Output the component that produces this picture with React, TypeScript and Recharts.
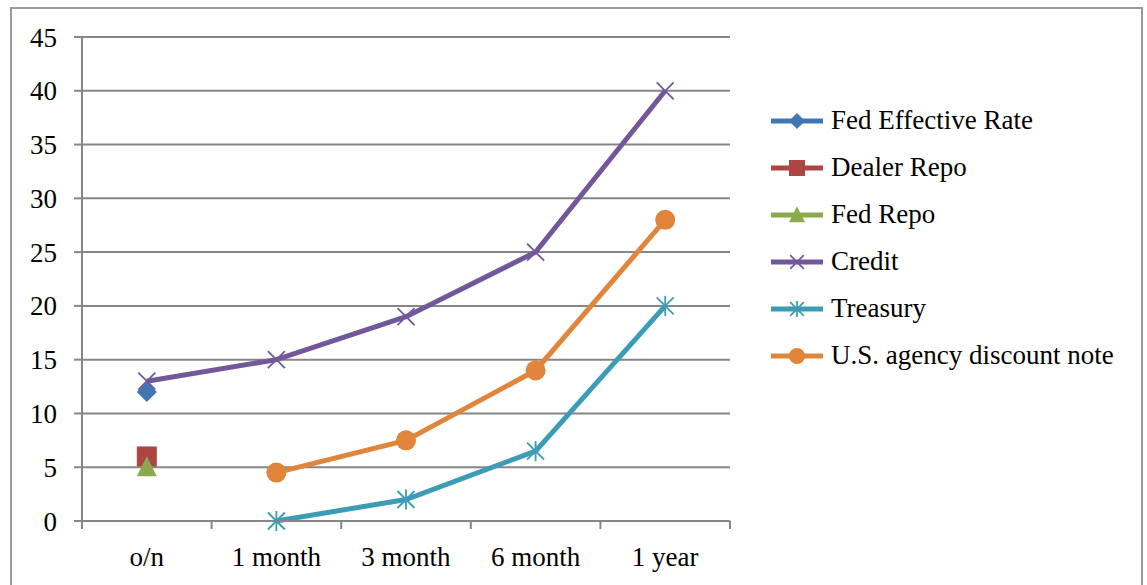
import React from 'react';
import { LineChart, Line, XAxis, YAxis, CartesianGrid, Legend } from 'recharts';

const categories = ['o/n', '1 month', '3 month', '6 month', '1 year'];
const fedEffective = [12, null, null, null, null];
const dealerRepo = [6, null, null, null, null];
const fedRepo = [5, null, null, null, null];
const credit = [13, 15, 19, 25, 40];
const treasury = [null, 0, 2, 6.5, 20];
const agency = [null, 4.5, 7.5, 14, 28];
const yTicks = [0, 5, 10, 15, 20, 25, 30, 35, 40, 45];

const data = categories.map((name, i) => ({
  name,
  fedEffective: fedEffective[i],
  dealerRepo: dealerRepo[i],
  fedRepo: fedRepo[i],
  credit: credit[i],
  treasury: treasury[i],
  agency: agency[i],
}));

const FONT = '"Liberation Serif", serif';
const AXIS = '#868686';
const X_TICK_SIZE = 8;
const X_TICK_MARGIN = 18;

type Shape = 'diamond' | 'square' | 'triangle' | 'x' | 'star' | 'circle';

const series: { key: string; name: string; color: string; shape: Shape }[] = [
  { key: 'fedEffective', name: 'Fed Effective Rate', color: '#4276B3', shape: 'diamond' },
  { key: 'dealerRepo', name: 'Dealer Repo', color: '#AC4643', shape: 'square' },
  { key: 'fedRepo', name: 'Fed Repo', color: '#8BAA4E', shape: 'triangle' },
  { key: 'credit', name: 'Credit', color: '#72589A', shape: 'x' },
  { key: 'treasury', name: 'Treasury', color: '#3D9CB5', shape: 'star' },
  { key: 'agency', name: 'U.S. agency discount note', color: '#E0853A', shape: 'circle' },
];

// s = scale, 1 in the plot, smaller in the legend
const Marker = ({ shape, cx, cy, color, s = 1 }: { shape: Shape; cx: number; cy: number; color: string; s?: number }) => {
  const h = 10 * s;
  switch (shape) {
    case 'diamond':
      return <polygon points={`${cx},${cy - h} ${cx + h},${cy} ${cx},${cy + h} ${cx - h},${cy}`} fill={color} />;
    case 'square':
      return <rect x={cx - h} y={cy - h} width={2 * h} height={2 * h} fill={color} />;
    case 'triangle':
      return <polygon points={`${cx},${cy - h * 1.1} ${cx + h},${cy + h * 0.9} ${cx - h},${cy + h * 0.9}`} fill={color} />;
    case 'x':
      return (
        <g stroke={color} strokeWidth={1.8}>
          <line x1={cx - h * 0.85} y1={cy - h * 0.85} x2={cx + h * 0.85} y2={cy + h * 0.85} />
          <line x1={cx - h * 0.85} y1={cy + h * 0.85} x2={cx + h * 0.85} y2={cy - h * 0.85} />
        </g>
      );
    case 'star':
      return (
        <g stroke={color} strokeWidth={1.8}>
          <line x1={cx - h * 0.85} y1={cy - h * 0.85} x2={cx + h * 0.85} y2={cy + h * 0.85} />
          <line x1={cx - h * 0.85} y1={cy + h * 0.85} x2={cx + h * 0.85} y2={cy - h * 0.85} />
          <line x1={cx} y1={cy - h} x2={cx} y2={cy + h} />
        </g>
      );
    default:
      return <circle cx={cx} cy={cy} r={h} fill={color} />;
  }
};

const makeDot = (shape: Shape, color: string) => (props: any) => {
  const { cx, cy, value, index } = props;
  if (value == null || cx == null || cy == null) return <g key={index} />;
  return (
    <g key={index}>
      <Marker shape={shape} cx={cx} cy={cy} color={color} />
    </g>
  );
};

const XTick = (props: any) => {
  const { x, y, payload, index, width, visibleTicksCount } = props;
  const band = width / visibleTicksCount;
  const axisY = y - X_TICK_SIZE - X_TICK_MARGIN;
  return (
    <g>
      <line x1={x - band / 2} x2={x - band / 2} y1={axisY} y2={axisY + X_TICK_SIZE} stroke={AXIS} strokeWidth={2} />
      {index === visibleTicksCount - 1 && (
        <line x1={x + band / 2} x2={x + band / 2} y1={axisY} y2={axisY + X_TICK_SIZE} stroke={AXIS} strokeWidth={2} />
      )}
      <text x={x} y={y} dy="0.71em" textAnchor="middle" fill="#000" fontSize={27} fontFamily={FONT}>
        {payload.value}
      </text>
    </g>
  );
};

const YTick = (props: any) => {
  const { x, y, payload } = props;
  return (
    <text x={x} y={y} dy="0.355em" textAnchor="end" fill="#000" fontSize={27} fontFamily={FONT}>
      {payload.value}
    </text>
  );
};

const LegendContent = () => (
  <div style={{ fontFamily: FONT, fontSize: 27, color: '#000' }}>
    {series.map((s) => (
      <div key={s.key} style={{ display: 'flex', alignItems: 'center', height: 47 }}>
        <svg width={60} height={24} style={{ display: 'block' }}>
          <line x1={0} x2={52} y1={12} y2={12} stroke={s.color} strokeWidth={5} />
          <Marker shape={s.shape} cx={26} cy={12} color={s.color} s={0.8} />
        </svg>
        <span style={{ whiteSpace: 'nowrap' }}>{s.name}</span>
      </div>
    ))}
  </div>
);

export default function App() {
  return (
    <div
      style={{
        position: 'absolute',
        left: 0,
        top: 0,
        width: 1147,
        height: 585,
        background: '#fff',
        overflow: 'hidden',
        fontFamily: FONT,
      }}
    >
      <div
        style={{
          position: 'absolute',
          left: 10,
          top: 7,
          width: 1133,
          height: 620,
          border: '2px solid #9a9a9a',
          boxSizing: 'border-box',
        }}
      />
      <LineChart width={1147} height={585} data={data} margin={{ top: 37, right: 417, bottom: 24, left: 0 }}>
        <CartesianGrid vertical={false} stroke={AXIS} strokeWidth={2} />
        <XAxis
          dataKey="name"
          scale="band"
          height={40}
          axisLine={{ stroke: AXIS, strokeWidth: 2 }}
          tickLine={false}
          tickSize={X_TICK_SIZE}
          tickMargin={X_TICK_MARGIN}
          tick={<XTick />}
          interval={0}
        />
        <YAxis
          width={82}
          domain={[0, 45]}
          ticks={yTicks}
          interval={0}
          axisLine={{ stroke: AXIS, strokeWidth: 2 }}
          tickLine={{ stroke: AXIS, strokeWidth: 2 }}
          tickSize={8}
          tickMargin={17}
          tick={<YTick />}
        />
        <Legend
          layout="horizontal"
          align="center"
          verticalAlign="middle"
          content={<LegendContent />}
          wrapperStyle={{ left: 771, top: 97, width: 370, height: 290 }}
        />
        {series.map((s) => (
          <Line
            key={s.key}
            dataKey={s.key}
            name={s.name}
            stroke={s.color}
            strokeWidth={5}
            dot={makeDot(s.shape, s.color)}
            activeDot={false}
            connectNulls={false}
            isAnimationActive={false}
          />
        ))}
      </LineChart>
    </div>
  );
}
